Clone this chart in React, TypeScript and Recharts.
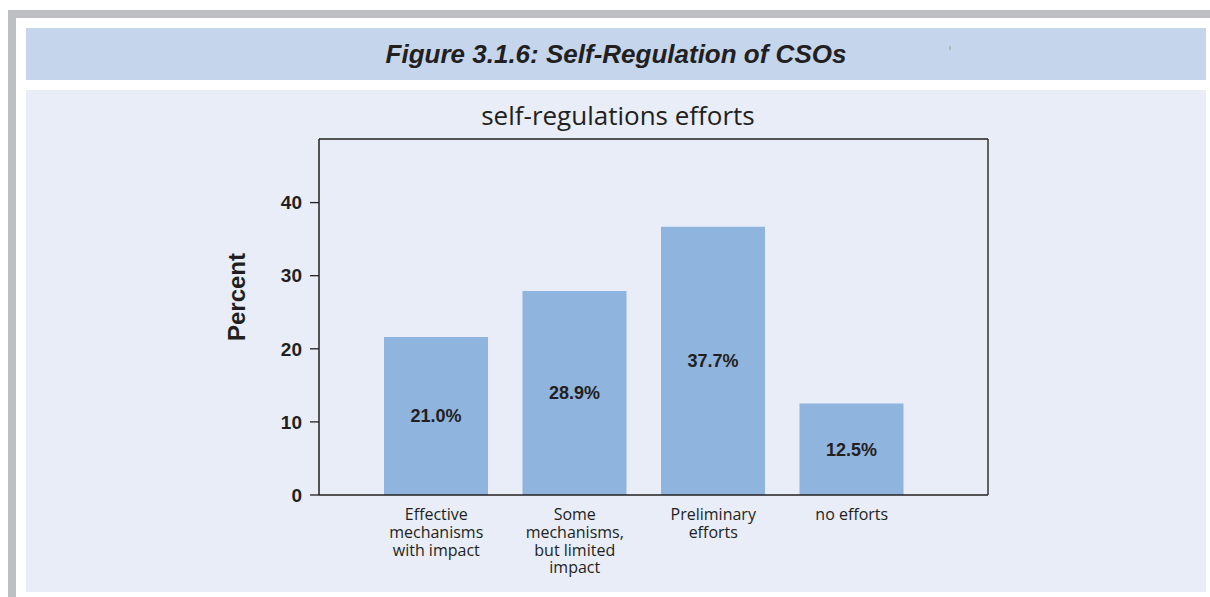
import React from "react";
import { BarChart, Bar, XAxis, YAxis, LabelList } from "recharts";

const categories = [
  "Effective\nmechanisms\nwith impact",
  "Some\nmechanisms,\nbut limited\nimpact",
  "Preliminary\nefforts",
  "no efforts",
];
const barValues = [21.6, 27.9, 36.7, 12.5];
const valueLabels = ["21.0%", "28.9%", "37.7%", "12.5%"];
const yTicks = [0, 10, 20, 30, 40];
const yMax = 48.7;

const figureTitle = "Figure 3.1.6: Self-Regulation of CSOs";
const chartTitle = "self-regulations efforts";
const yAxisTitle = "Percent";

const data = categories.map((c, i) => ({
  category: c,
  value: barValues[i],
  label: valueLabels[i],
}));

const INK = "#231f20";

const XTick = (props: any) => {
  const { x, y, payload } = props;
  const lines = String(payload.value).split("\n");
  return (
    <text
      x={x}
      y={y}
      textAnchor="middle"
      fontFamily="'Open Sans', sans-serif"
      fontSize={16}
      fill={INK}
    >
      {lines.map((l, i) => (
        <tspan key={i} x={x} dy={i === 0 ? 25 : 17.8}>
          {l}
        </tspan>
      ))}
    </text>
  );
};

export default function App() {
  return (
    <div
      style={{
        position: "absolute",
        left: 0,
        top: 0,
        width: 1210,
        height: 597,
        background: "#ffffff",
        overflow: "hidden",
      }}
    >
      {/* frame */}
      <div style={{ position: "absolute", left: 8, top: 10, width: 1202, height: 8, background: "#bebfc3" }} />
      <div style={{ position: "absolute", left: 8, top: 10, width: 8, height: 587, background: "#bebfc3" }} />
      {/* header band */}
      <div style={{ position: "absolute", left: 26, top: 28, width: 1180, height: 52, background: "#c4d5ec" }} />
      <div style={{ position: "absolute", left: 949, top: 46, width: 2, height: 4, background: "#b5b7bb" }} />
      {/* chart background */}
      <div style={{ position: "absolute", left: 26, top: 90, width: 1180, height: 502, background: "#e8edf8" }} />

      <div style={{ position: "absolute", left: 26, top: 90 }}>
        <BarChart
          width={1180}
          height={502}
          data={data}
          margin={{ top: 48, right: 217, left: 0, bottom: 0 }}
        >
          <XAxis
            dataKey="category"
            height={97}
            padding={{ left: 48, right: 67 }}
            tickLine={false}
            tickSize={0}
            tickMargin={0}
            interval={0}
            axisLine={{ stroke: INK, strokeWidth: 1.5 }}
            tick={<XTick />}
          />
          <XAxis
            xAxisId="top"
            dataKey="category"
            orientation="top"
            height={1}
            padding={{ left: 48, right: 67 }}
            tick={false}
            tickLine={false}
            axisLine={{ stroke: INK, strokeWidth: 1.5 }}
          />
          <YAxis
            width={293}
            type="number"
            domain={[0, yMax]}
            ticks={yTicks}
            tickSize={9}
            tickMargin={8}
            tickLine={{ stroke: INK, strokeWidth: 1.3 }}
            axisLine={{ stroke: INK, strokeWidth: 1.5 }}
            tick={{
              fill: INK,
              fontFamily: "'Liberation Sans', Arial, sans-serif",
              fontWeight: "bold",
              fontSize: 19,
            }}
            label={{
              content: () => (
                <text
                  x={210}
                  y={207}
                  transform="rotate(-90 210 207)"
                  textAnchor="middle"
                  dominantBaseline="central"
                  fontFamily="'Liberation Sans', Arial, sans-serif"
                  fontWeight="bold"
                  fontSize={24}
                  fill={INK}
                >
                  {yAxisTitle}
                </text>
              ),
            }}
          />
          <YAxis
            yAxisId="right"
            orientation="right"
            width={1}
            type="number"
            domain={[0, yMax]}
            ticks={yTicks}
            tick={false}
            tickLine={false}
            axisLine={{ stroke: "#333333", strokeWidth: 1.5 }}
          />
          <Bar dataKey="value" fill="#8fb4de" barSize={104} isAnimationActive={false}>
            <LabelList
              dataKey="label"
              position="center"
              fill={INK}
              style={{
                fontFamily: "'Liberation Sans', Arial, sans-serif",
                fontWeight: "bold",
                fontSize: 18,
              }}
            />
          </Bar>
        </BarChart>
      </div>

      <svg
        width={1210}
        height={597}
        style={{ position: "absolute", left: 0, top: 0, pointerEvents: "none" }}
      >
        <text
          x={616}
          y={63}
          textAnchor="middle"
          fontFamily="'Liberation Sans', Arial, sans-serif"
          fontWeight="bold"
          fontStyle="italic"
          fontSize={26}
          fill={INK}
        >
          {figureTitle}
        </text>
        <text
          x={618}
          y={125}
          textAnchor="middle"
          fontFamily="'Open Sans', sans-serif"
          fontSize={26}
          fill={INK}
        >
          {chartTitle}
        </text>
      </svg>
    </div>
  );
}
